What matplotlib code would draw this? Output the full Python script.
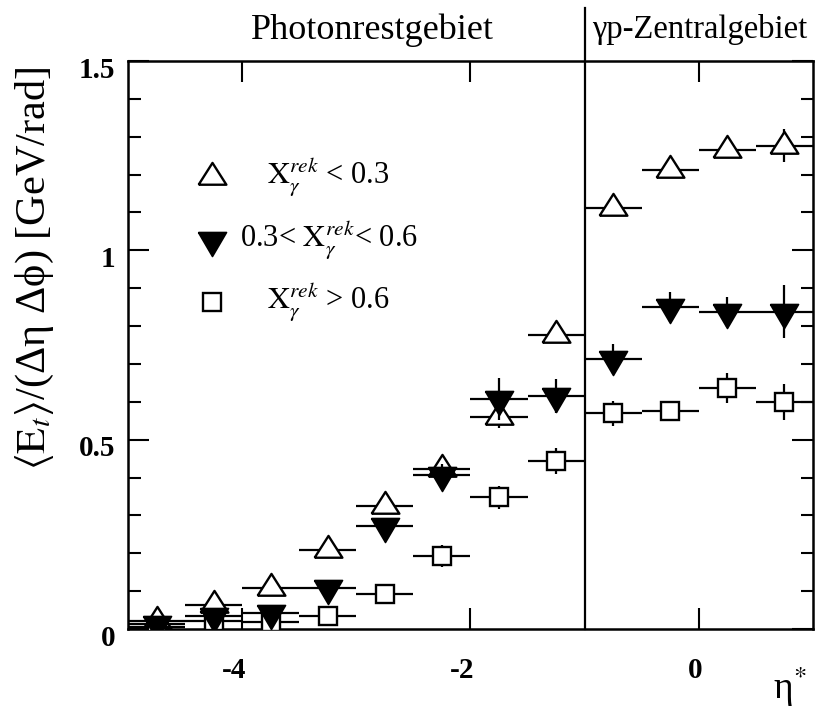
import matplotlib
matplotlib.use("Agg")
import matplotlib.pyplot as plt
import matplotlib.transforms as mtransforms
from matplotlib.ticker import MultipleLocator, FixedLocator
import numpy as np

plt.rcParams['font.family'] = ['Liberation Serif', 'DejaVu Serif']
plt.rcParams['mathtext.fontset'] = 'stix'
plt.rcParams['axes.unicode_minus'] = False

# ---- data ----
eta_centers = [-4.75, -4.25, -3.75, -3.25, -2.75, -2.25, -1.75, -1.25, -0.75, -0.25, 0.25, 0.75]
bin_halfwidth = [0.25] * 12

low_x = [0.022, 0.063, 0.108, 0.209, 0.325, 0.422, 0.560, 0.776, 1.112, 1.212, 1.265, 1.276]
low_x_err = [0.005, 0.01, 0.01, 0.01, 0.015, 0.03, 0.03, 0.02, 0.015, 0.015, 0.015, 0.044]

mid_x = [0.012, 0.034, 0.042, 0.108, 0.272, 0.407, 0.607, 0.615, 0.713, 0.850, 0.838, 0.838]
mid_x_err = [0.005, 0.01, 0.01, 0.015, 0.02, 0.03, 0.055, 0.045, 0.04, 0.04, 0.04, 0.07]

high_x = [0.004, 0.022, 0.018, 0.034, 0.092, 0.193, 0.348, 0.444, 0.570, 0.576, 0.636, 0.599]
high_x_err = [0.003, 0.005, 0.005, 0.01, 0.01, 0.03, 0.03, 0.034, 0.033, 0.01, 0.04, 0.048]

legend_labels = [r'$\mathrm{X}_{\gamma}^{rek}$ < 0.3',
                 r'0.3< $\mathrm{X}_{\gamma}^{rek}$< 0.6',
                 r'$\mathrm{X}_{\gamma}^{rek}$ > 0.6']
region_labels = ['Photonrestgebiet', 'γp-Zentralgebiet']
region_label_x = [-2.86, 0.01]
region_label_size = [26, 23.5]
x_ticks = [-4, -2, 0]
x_ticklabels = ['-4', '-2', '0']
y_ticks = [0, 0.5, 1, 1.5]
y_ticklabels = ['0', '0.5', '1', '1.5']

# ---- markers (data point at triangle centroid) ----
up_tri = [(-1.0, -0.52), (1.0, -0.52), (0.0, 1.05), (-1.0, -0.52)]
down_tri = [(-1.0, 0.57), (1.0, 0.57), (0.0, -1.14), (-1.0, 0.57)]

fig = plt.figure(figsize=(8.16, 7.10), dpi=100)
ax = fig.add_axes([128/816, 81/710, 685/816, 568/710])

common = dict(ecolor='black', elinewidth=1.6, capsize=0, linestyle='none')
ax.errorbar(eta_centers, low_x, xerr=bin_halfwidth, yerr=low_x_err, marker=up_tri,
            markersize=21, mfc='white', mec='black', mew=1.7, zorder=3, **common)
ax.errorbar(eta_centers, high_x, xerr=bin_halfwidth, yerr=high_x_err, marker='s',
            markersize=13, mfc='white', mec='black', mew=1.7, zorder=4, **common)
ax.errorbar(eta_centers, mid_x, xerr=bin_halfwidth, yerr=mid_x_err, marker=down_tri,
            markersize=23, mfc='black', mec='black', mew=1.2, zorder=5, **common)

ax.set_xlim(-5, 1)
ax.set_ylim(0, 1.5)

blend = mtransforms.blended_transform_factory(ax.transData, ax.transAxes)
# divider between regions, extending above the axes
ax.plot([-1, -1], [0, 1.093], color='black', lw=1.6, transform=blend,
        clip_on=False, zorder=6)

for lbl, xx, fs in zip(region_labels, region_label_x, region_label_size):
    ax.text(xx, 1.0546, lbl, transform=blend, ha='center', va='center', fontsize=fs)

# ticks
ax.xaxis.set_major_locator(FixedLocator(x_ticks))
ax.set_xticklabels(x_ticklabels)
ax.yaxis.set_major_locator(FixedLocator(y_ticks))
ax.set_yticklabels(y_ticklabels)
ax.yaxis.set_minor_locator(MultipleLocator(0.1))
ax.tick_params(which='both', direction='in', top=True, right=True, width=1.5)
ax.tick_params(which='major', length=15)
ax.tick_params(which='minor', length=9)
ax.tick_params(axis='x', pad=20)
ax.tick_params(axis='y', pad=9)
for lab in ax.get_xticklabels() + ax.get_yticklabels():
    lab.set_fontweight('bold')
    lab.set_fontsize(21)
for lab in ax.get_xticklabels():
    lab.set_horizontalalignment('right')
    lab.set_transform(lab.get_transform() + mtransforms.ScaledTranslation(4/100, 0, fig.dpi_scale_trans))
for lab in ax.get_yticklabels():
    lab.set_transform(lab.get_transform() + mtransforms.ScaledTranslation(0, -6/100, fig.dpi_scale_trans))

for sp in ax.spines.values():
    sp.set_linewidth(1.8)

# y label
ax.text(-0.136, 0.636, r'$\langle\mathrm{E}_t\rangle$/(Δη Δϕ) [GeV/rad]',
        transform=ax.transAxes, rotation=90, ha='center', va='center', fontsize=30.5)
# x label
fig.text(790/816, 1 - 687/710, r'η$^{*}$', ha='center', va='center', fontsize=27)

# legend (manual)
leg_y = [0.796, 0.685, 0.576]
leg_markers = [dict(marker=up_tri, markersize=21, mfc='white', mec='black', mew=1.7),
               dict(marker=down_tri, markersize=23, mfc='black', mec='black', mew=1.2),
               dict(marker='s', markersize=13, mfc='white', mec='black', mew=1.7)]
for yy, mk, lbl in zip(leg_y, leg_markers, legend_labels):
    ax.plot([0.1226], [yy], transform=ax.transAxes, linestyle='none', clip_on=False, **mk)
    ax.text(0.293, yy, lbl, transform=ax.transAxes, ha='center', va='center', fontsize=22)

fig.savefig('out.png', dpi=100)
